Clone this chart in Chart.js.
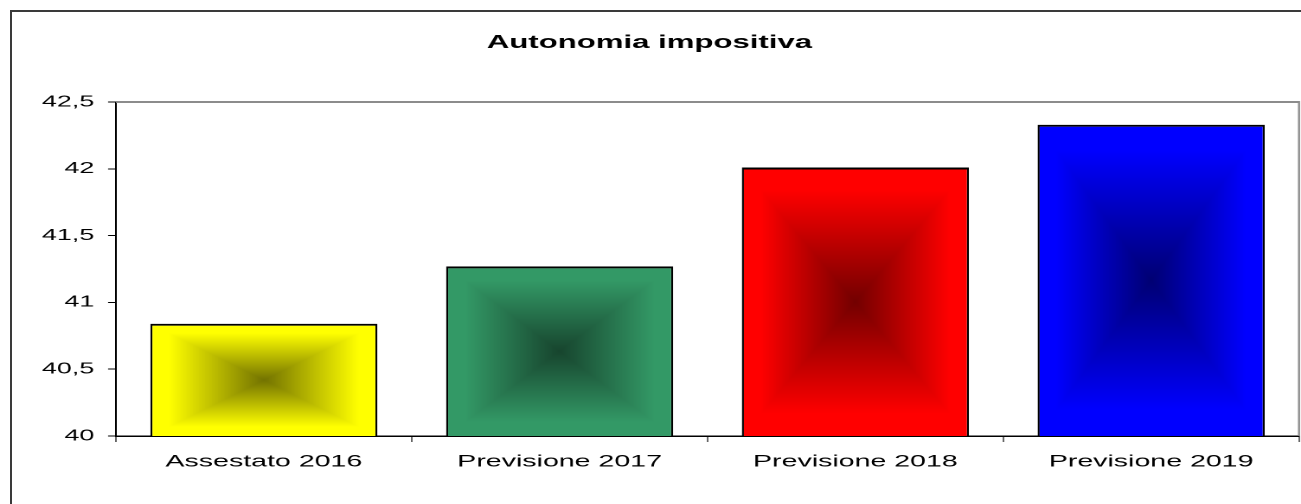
<!DOCTYPE html>
<html>
<head>
<meta charset="utf-8">
<title>Autonomia impositiva</title>
<script src="https://cdn.jsdelivr.net/npm/chart.js@4.4.0/dist/chart.umd.min.js"></script>
<style>
  html, body { margin: 0; padding: 0; background: #fff; overflow: hidden; }
  .frame {
    position: absolute; left: 10px; top: 10px; width: 1400px; height: 600px;
    border: 2px solid #3a3a3a; box-sizing: border-box;
  }
  /* the original picture is stretched horizontally, so the chart is too */
  .wrap {
    position: absolute; left: 0; top: 0; width: 752px; height: 504px;
    transform: scaleX(1.73005); transform-origin: 0 0;
  }
</style>
</head>
<body>
<div class="frame"></div>
<div class="wrap"><canvas id="myChart" width="752" height="504"></canvas></div>
<script>
const categories = ["Assestato 2016", "Previsione 2017", "Previsione 2018", "Previsione 2019"];
const values = [40.84, 41.27, 42.01, 42.33];
const barColors = ["#ffff00", "#339966", "#ff0000", "#0000ff"];
const yTickLabels = ["40", "40,5", "41", "41,5", "42", "42,5"];

const yMin = 40;
const yMax = 42.5;
const barPct = 0.768;

function hexToRgb(h) {
  return [parseInt(h.slice(1, 3), 16), parseInt(h.slice(3, 5), 16), parseInt(h.slice(5, 7), 16)];
}

// "from center" rectangle gradient like the old office charts: dark in the middle, bright at the edges
function barFill(chart, i) {
  const xs = chart.scales.x;
  const ys = chart.scales.y;
  if (!xs || !ys || !xs.width) return barColors[i];
  const dpr = chart.currentDevicePixelRatio || 1;
  const catW = xs.width / categories.length;
  const w = catW * barPct;
  const cx = xs.getPixelForValue(i);
  const left = cx - w / 2;
  const top = ys.getPixelForValue(values[i]);
  const bottom = ys.getPixelForValue(yMin);
  const h = bottom - top;
  const pw = Math.max(2, Math.round(w * dpr));
  const ph = Math.max(2, Math.round(h * dpr));
  const off = document.createElement("canvas");
  off.width = pw;
  off.height = ph;
  const octx = off.getContext("2d");
  const img = octx.createImageData(pw, ph);
  const rgb = hexToRgb(barColors[i]);
  const hw = pw / 2, hh = ph / 2;
  for (let y = 0; y < ph; y++) {
    for (let x = 0; x < pw; x++) {
      const t = Math.max(Math.abs(x + 0.5 - hw) / hw, Math.abs(y + 0.5 - hh) / hh);
      const f = 0.45 + 0.55 * Math.min(1, t * 1.2);
      const k = (y * pw + x) * 4;
      img.data[k] = rgb[0] * f;
      img.data[k + 1] = rgb[1] * f;
      img.data[k + 2] = rgb[2] * f;
      img.data[k + 3] = 255;
    }
  }
  octx.putImageData(img, 0, 0);
  const pattern = chart.ctx.createPattern(off, "no-repeat");
  pattern.setTransform(new DOMMatrix([w / pw, 0, 0, h / ph, left, top]));
  return pattern;
}

// grey top and right edge of the plot area
const plotFrame = {
  id: "plotFrame",
  beforeDatasetsDraw(chart) {
    const { ctx, chartArea } = chart;
    ctx.save();
    ctx.strokeStyle = "#8c8c8c";
    ctx.lineWidth = 2;
    ctx.beginPath();
    ctx.moveTo(chartArea.left, chartArea.top);
    ctx.lineTo(chartArea.right, chartArea.top);
    ctx.stroke();
    ctx.lineWidth = 1.2;
    ctx.beginPath();
    ctx.moveTo(chartArea.right, chartArea.top - 1);
    ctx.lineTo(chartArea.right, chartArea.bottom);
    ctx.stroke();
    ctx.restore();
  },
};

const ctx = document.getElementById("myChart");
const myChart = new Chart(ctx, {
  type: "bar",
  data: {
    labels: categories,
    datasets: [
      {
        label: "Autonomia impositiva",
        data: values,
        backgroundColor: (c) => (c.type === "data" ? barFill(c.chart, c.dataIndex) : barColors[0]),
        borderColor: "#000",
        borderWidth: { top: 2, bottom: 2, left: 1.2, right: 1.2 },
        borderSkipped: false,
        categoryPercentage: 1,
        barPercentage: barPct,
      },
    ],
  },
  options: {
    responsive: false,
    animation: false,
    devicePixelRatio: 2,
    layout: { padding: { left: 0, right: 1.15, top: 0, bottom: 0 } },
    plugins: {
      legend: { display: false },
      tooltip: { enabled: false },
      title: {
        display: true,
        text: "Autonomia impositiva",
        color: "#000",
        font: { family: "'Liberation Sans', Arial, sans-serif", size: 18, weight: "bold" },
        padding: { top: 32, bottom: 48.4 },
      },
    },
    scales: {
      x: {
        afterFit: (scale) => { scale.height = 68; },
        grid: { drawOnChartArea: false, drawTicks: true, tickLength: 6, color: "#000", lineWidth: 0.6, offset: true },
        border: { color: "#000", width: 1.5 },
        ticks: {
          color: "#000",
          padding: 10,
          maxRotation: 0,
          font: { family: "'Liberation Sans', Arial, sans-serif", size: 16.5 },
        },
      },
      y: {
        min: yMin,
        max: yMax,
        afterFit: (scale) => { scale.width = 67.05; },
        grid: { drawOnChartArea: false, drawTicks: true, tickLength: 4.6, color: "#000", lineWidth: 1 },
        border: { color: "#000", width: 1 },
        ticks: {
          stepSize: 0.5,
          color: "#000",
          padding: 8,
          font: { family: "'Liberation Sans', Arial, sans-serif", size: 15.5 },
          callback: (v, i) => yTickLabels[i],
        },
      },
    },
  },
  plugins: [plotFrame],
});
</script>
</body>
</html>
